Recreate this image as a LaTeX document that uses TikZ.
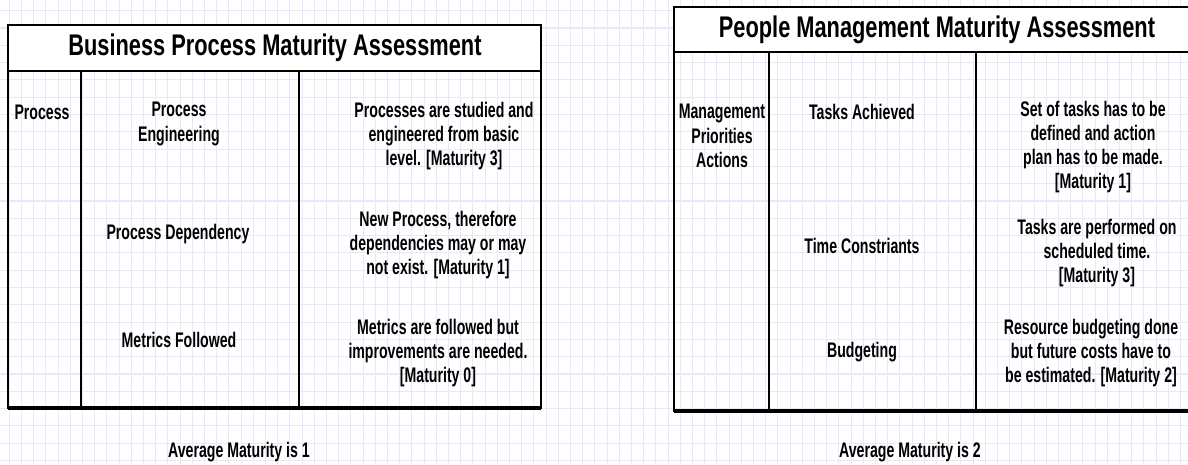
\documentclass[tikz,border=0pt]{standalone}
\usepackage{fontspec}
\newfontfamily\bodyfont[FakeStretch=0.67]{Liberation Sans}
\newfontfamily\headfont[FakeStretch=0.73]{Liberation Sans}
\definecolor{gridcol}{RGB}{232,232,250}

\tikzset{
    txt/.style={align=center, inner sep=0pt, font=\bodyfont\bfseries\fontsize{12}{13.8}\selectfont},
    head/.style={inner sep=0pt, font=\headfont\bfseries\fontsize{17}{19}\selectfont},
    frame/.style={line width=1.4pt},
}

\begin{document}
\begin{tikzpicture}[x=0.02cm,y=-0.02cm]

    \useasboundingbox (0,0) rectangle (1188,464);
    \clip (0,0) rectangle (1188,464);

    % background grid
    \foreach \i in {0,...,97} \draw[gridcol, line width=0.6pt] (9.3+12.2*\i,0) -- (9.3+12.2*\i,464);
    \foreach \j in {0,...,26} \draw[gridcol, line width=0.6pt] (0,10.7+17.3*\j) -- (1188,10.7+17.3*\j);

    % business process table
    \filldraw[frame, fill=white] (8,25) rectangle (541,71);
    \draw[frame] (8,71) -- (8,408) -- (541,408) -- (541,71);
    \draw[line width=1.9pt] (8,408) -- (541,408);
    \draw[frame] (81,71) -- (81,408);
    \draw[frame] (299,71) -- (299,408);

    \node[head] (bptitle) at (275,48) {Business Process Maturity Assessment};
    \node[txt] (bpproc) at (42,112) {Process};
    \node[txt] (bpeng) at (179,124) {Process\\Engineering};
    \node[txt] (bpengtxt) at (444,136) {Processes are studied and\\engineered from basic\\level. [Maturity 3]};
    \node[txt] (bpdep) at (178,234) {Process Dependency};
    \node[txt] (bpdeptxt) at (438,245) {New Process, therefore\\dependencies may or may\\not exist. [Maturity 1]};
    \node[txt] (bpmet) at (179,340) {Metrics Followed};
    \node[txt] (bpmettxt) at (438,353) {Metrics are followed but\\improvements are needed.\\{[Maturity 0]}};
    \node[txt] (bpavg) at (239,452) {Average Maturity is 1};

    % people management table
    \filldraw[frame, fill=white] (674,7) rectangle (1200,52);
    \draw[frame] (674,52) -- (674,411) -- (1200,411);
    \draw[line width=1.9pt] (674,411) -- (1200,411);
    \draw[frame] (769,52) -- (769,411);
    \draw[frame] (976,52) -- (976,411);

    \node[head] (pmtitle) at (937,30) {People Management Maturity Assessment};
    \node[txt] (pmprio) at (722,136) {Management\\Priorities\\Actions};
    \node[txt] (pmtask) at (862,112) {Tasks Achieved};
    \node[txt] (pmtasktxt) at (1093,147) {Set of tasks has to be\\defined and action\\plan has to be made.\\{[Maturity 1]}};
    \node[txt] (pmtime) at (862,246) {Time Constriants};
    \node[txt] (pmtimetxt) at (1097,253) {Tasks are performed on\\scheduled time.\\{[Maturity 3]}};
    \node[txt] (pmbud) at (862,352) {Budgeting};
    \node[txt] (pmbudtxt) at (1091,353) {Resource budgeting done\\but future costs have to\\be estimated. [Maturity 2]};
    \node[txt] (pmavg) at (910,452) {Average Maturity is 2};

\end{tikzpicture}
\end{document}
